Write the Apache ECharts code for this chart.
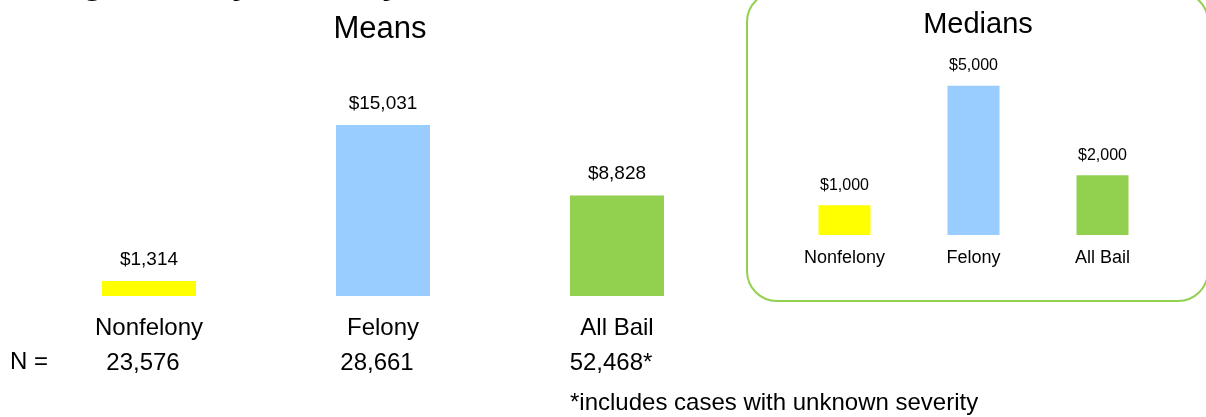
<!DOCTYPE html>
<html>
<head>
<meta charset="utf-8">
<title>Bail by severity</title>
<script src="https://cdn.jsdelivr.net/npm/echarts@6/dist/echarts.min.js"></script>
<style>
  html, body { margin: 0; padding: 0; background: #fff; }
  #chart { width: 1206px; height: 417px; }
</style>
</head>
<body>
<div id="chart"></div>
<script>
// data
const categories = ['Nonfelony', 'Felony', 'All Bail']
const meanValues = [1314, 15031, 8828]
const medianValues = [1000, 5000, 2000]
const nValues = ['23,576', '28,661', '52,468*']
const barColors = ['#FFFF00', '#99CCFF', '#92D050']

const FONT = '"Liberation Sans", Arial, sans-serif'

const money = (v) => '$' + Number(v).toLocaleString('en-US')

const toBars = (values) => values.map((v, i) => ({ value: v, itemStyle: { color: barColors[i] } }))

const hiddenY = (gridIndex, max) => ({
  type: 'value', gridIndex: gridIndex, min: 0, max: max, show: false,
  splitLine: { show: false }
})

const chart = echarts.init(document.getElementById('chart'), null, { renderer: 'canvas' })

const option = {
  animation: false,
  backgroundColor: '#fff',
  textStyle: { fontFamily: FONT },
  grid: [
    { left: 32, width: 702, top: 114, height: 182 },   // means
    { left: 780, width: 387, top: 56, height: 179 }    // medians
  ],
  xAxis: [
    {
      type: 'category', gridIndex: 0, data: categories,
      axisLine: { show: false }, axisTick: { show: false },
      axisLabel: { margin: 20, fontSize: 24, color: '#000', fontFamily: FONT }
    },
    {
      // N row under the means
      type: 'category', gridIndex: 0, data: categories, position: 'bottom', offset: 35,
      axisLine: { show: false }, axisTick: { show: false },
      axisLabel: {
        margin: 20, fontSize: 24, color: '#000', fontFamily: FONT,
        padding: [0, 12, 0, 0],
        formatter: (v, i) => nValues[i]
      }
    },
    {
      type: 'category', gridIndex: 1, data: categories,
      axisLine: { show: false }, axisTick: { show: false },
      axisLabel: { margin: 14, fontSize: 18, color: '#000', fontFamily: FONT }
    }
  ],
  yAxis: [hiddenY(0, 16000), hiddenY(1, 6000)],
  series: [
    {
      name: 'Means', type: 'bar', xAxisIndex: 0, yAxisIndex: 0,
      barWidth: 94, data: toBars(meanValues),
      label: {
        show: true, position: 'top', distance: 12,
        fontSize: 19, color: '#000', fontFamily: FONT,
        formatter: (p) => money(p.value)
      }
    },
    {
      name: 'Medians', type: 'bar', xAxisIndex: 2, yAxisIndex: 1,
      barWidth: 52, data: toBars(medianValues),
      label: {
        show: true, position: 'top', distance: 12,
        fontSize: 16, color: '#000', fontFamily: FONT,
        formatter: (p) => money(p.value)
      }
    }
  ],
  graphic: [
    {
      // rounded frame round the medians
      type: 'rect', z: -1,
      shape: { x: 747, y: -8, width: 461, height: 309, r: 30 },
      style: { fill: 'none', stroke: '#92D050', lineWidth: 2 }
    },
    {
      // slide title, cut off at the top edge
      type: 'text', x: -17, y: -17,
      style: { text: 'Average Bail by Severity', font: 'bold 36px ' + FONT, fill: '#000',
        align: 'left', verticalAlign: 'middle', textAlign: 'left', textVerticalAlign: 'middle' }
    },
    {
      type: 'text', x: 380, y: 29,
      style: { text: 'Means', font: '31px ' + FONT, fill: '#000',
        align: 'center', verticalAlign: 'middle', textAlign: 'center', textVerticalAlign: 'middle' }
    },
    {
      type: 'text', x: 978, y: 25,
      style: { text: 'Medians', font: '29px ' + FONT, fill: '#000',
        align: 'center', verticalAlign: 'middle', textAlign: 'center', textVerticalAlign: 'middle' }
    },
    {
      type: 'text', x: 10, y: 362,
      style: { text: 'N =', font: '24px ' + FONT, fill: '#000',
        align: 'left', verticalAlign: 'middle', textAlign: 'left', textVerticalAlign: 'middle' }
    },
    {
      type: 'text', x: 570, y: 403,
      style: { text: '*includes cases with unknown severity', font: '24px ' + FONT, fill: '#000',
        align: 'left', verticalAlign: 'middle', textAlign: 'left', textVerticalAlign: 'middle' }
    }
  ]
}

chart.setOption(option)
</script>
</body>
</html>
